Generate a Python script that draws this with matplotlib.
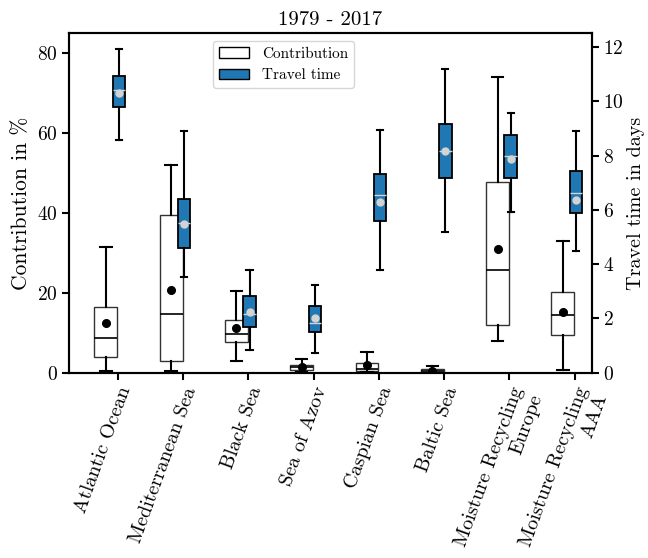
import matplotlib
matplotlib.use("Agg")
import matplotlib.pyplot as plt
import matplotlib.patches as mpatches

plt.rcParams['font.family'] = ['cmr10', 'DejaVu Serif']
plt.rcParams['mathtext.fontset'] = 'cm'
plt.rcParams['axes.formatter.use_mathtext'] = True
plt.rcParams['axes.linewidth'] = 1.5

labels = ['Atlantic Ocean', 'Mediterranean Sea', 'Black Sea', 'Sea of Azov',
          'Caspian Sea', 'Baltic Sea', 'Moisture Recycling\nEurope',
          'Moisture Recycling\nAAA']

# contribution in %
c_whislo = [0.5, 0.5, 3.0, 0.2, 0.1, 0.0, 8.0, 0.75]
c_q1 = [3.9, 2.9, 7.8, 0.7, 0.4, 0.1, 12.0, 9.4]
c_med = [8.8, 14.7, 9.6, 1.35, 1.0, 0.4, 25.8, 14.4]
c_q3 = [16.4, 39.6, 13.2, 2.0, 2.5, 0.85, 47.9, 20.3]
c_whishi = [31.5, 52.0, 20.5, 3.5, 5.3, 1.7, 74.2, 33.1]
c_mean = [12.4, 20.7, 11.1, 1.5, 1.9, 0.4, 31.0, 15.1]

# travel time in days
t_whislo = [8.56, 3.53, 0.84, 0.74, 3.77, 5.17, 5.91, 4.47]
t_q1 = [9.79, 4.58, 1.70, 1.51, 5.58, 7.18, 7.16, 5.89]
t_med = [10.43, 5.50, 2.16, 1.85, 6.54, 8.16, 8.00, 6.62]
t_q3 = [10.92, 6.40, 2.81, 2.45, 7.31, 9.17, 8.75, 7.44]
t_whishi = [11.92, 8.89, 3.79, 3.24, 8.93, 11.18, 9.58, 8.91]
t_mean = [10.32, 5.49, 2.23, 2.01, 6.29, 8.16, 7.88, 6.35]


def make_stats(lo, q1, med, q3, hi, mean):
    return [dict(whislo=a, q1=b, med=c, q3=d, whishi=e, mean=f, fliers=[])
            for a, b, c, d, e, f in zip(lo, q1, med, q3, hi, mean)]


x = list(range(1, len(labels) + 1))

fig = plt.figure(figsize=(6.48, 5.58), dpi=100)
ax = fig.add_axes([0.107, 0.332, 0.806, 0.608])
ax2 = ax.twinx()

ax.bxp(make_stats(c_whislo, c_q1, c_med, c_q3, c_whishi, c_mean),
       positions=[i - 0.18 for i in x], widths=0.35, showmeans=True,
       patch_artist=True,
       boxprops=dict(facecolor='white', edgecolor='#333333', linewidth=1.0),
       whiskerprops=dict(color='black', linewidth=1.5),
       capprops=dict(color='black', linewidth=1.5),
       medianprops=dict(color='black', linewidth=1.2),
       meanprops=dict(marker='o', markerfacecolor='black',
                      markeredgecolor='black', markersize=5.5))

ax2.bxp(make_stats(t_whislo, t_q1, t_med, t_q3, t_whishi, t_mean),
        positions=[i + 0.02 for i in x], widths=0.19, showmeans=True,
        patch_artist=True,
        boxprops=dict(facecolor='#1f77b4', edgecolor='black', linewidth=1.3),
        whiskerprops=dict(color='black', linewidth=1.5),
        capprops=dict(color='black', linewidth=1.5),
        medianprops=dict(color='#d3d3d3', linewidth=1.0),
        meanprops=dict(marker='o', markerfacecolor='#d3d3d3',
                       markeredgecolor='#d3d3d3', markersize=5))

ax.set_xlim(0.26, 8.26)
ax.set_ylim(0, 85)
ax2.set_ylim(0, 12.5)
ax.set_xticks(x)
ax.set_xticklabels(labels, rotation=70, ha='right', va='top',
                   rotation_mode='anchor')
ax.set_yticks([0, 20, 40, 60, 80])
ax2.set_yticks([0, 2, 4, 6, 8, 10, 12])
ax.tick_params(labelsize=14, width=1.5, length=5)
ax2.tick_params(labelsize=14, width=1.5, length=5)
ax.tick_params(axis='x', labelsize=14.5)
ax.set_ylabel('Contribution in %', fontsize=15.5)
ax2.set_ylabel('Travel time in days', fontsize=14.5, labelpad=2)
ax.set_title('1979 - 2017', fontsize=15)

handles = [mpatches.Patch(facecolor='white', edgecolor='black', label='Contribution'),
           mpatches.Patch(facecolor='#1f77b4', edgecolor='black', label='Travel time')]
ax2.legend(handles=handles, loc='upper left', bbox_to_anchor=(0.26, 1.0),
           fontsize=11)

fig.savefig('out.png', dpi=100)
